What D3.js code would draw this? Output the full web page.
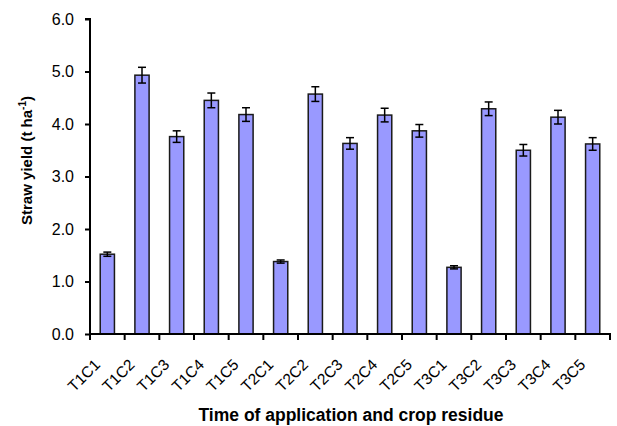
<!DOCTYPE html>
<html><head><meta charset="utf-8">
<script src="https://cdn.jsdelivr.net/npm/d3@7"></script>
<style>body{margin:0;background:#fff}svg{display:block}text{font-family:"Liberation Sans",Arial,sans-serif}</style>
</head><body>
<svg id="c" width="617" height="426"></svg>
<script>
const categories = ["T1C1","T1C2","T1C3","T1C4","T1C5","T2C1","T2C2","T2C3","T2C4","T2C5","T3C1","T3C2","T3C3","T3C4","T3C5"];
const values = [1.52,4.93,3.76,4.45,4.18,1.38,4.57,3.63,4.17,3.87,1.27,4.29,3.50,4.13,3.62];
const errors = [0.04,0.15,0.11,0.14,0.13,0.03,0.14,0.11,0.13,0.12,0.03,0.13,0.11,0.13,0.12];
const yTicks = [0,1,2,3,4,5,6];

const svg = d3.select("#c");
const m = {l:90, r:610, t:19, b:334};
const x = d3.scaleBand().domain(categories).range([m.l, m.r]).padding(0);
const y = d3.scaleLinear().domain([0,6]).range([m.b, m.t]);
const bw = x.bandwidth()*0.41;

// bars
svg.append("g").selectAll("rect").data(categories).join("rect")
  .attr("x", (d)=>x(d)+x.bandwidth()/2-bw/2)
  .attr("y", (d,i)=>y(values[i]))
  .attr("width", bw)
  .attr("height", (d,i)=>y(0)-y(values[i]))
  .attr("fill","#9999ff").attr("stroke","#1a1a1a").attr("stroke-width",1.5);

// error bars
const eg = svg.append("g").attr("stroke","#000").attr("stroke-width",1.5);
categories.forEach((c,i)=>{
  const cx = x(c)+x.bandwidth()/2;
  const y1 = y(values[i]+errors[i]), y2 = y(values[i]-errors[i]);
  eg.append("line").attr("x1",cx).attr("x2",cx).attr("y1",y1).attr("y2",y2);
  eg.append("line").attr("x1",cx-4).attr("x2",cx+4).attr("y1",y1).attr("y2",y1);
  eg.append("line").attr("x1",cx-4).attr("x2",cx+4).attr("y1",y2).attr("y2",y2);
});

// y axis
const ya = svg.append("g").attr("transform",`translate(${m.l},0)`)
  .call(d3.axisLeft(y).tickValues(yTicks).tickFormat(d3.format(".1f")).tickSize(5).tickPadding(11));
ya.select(".domain").attr("stroke","#000").attr("stroke-width",2).attr("d",`M-5,${m.t}H0V${m.b}`);
ya.selectAll(".tick line").attr("stroke","#000").attr("stroke-width",2);
ya.selectAll(".tick text").attr("font-size",16).attr("fill","#000").attr("font-family","Liberation Sans, Arial, sans-serif");

// x axis
const xa = svg.append("g").attr("transform",`translate(0,${m.b})`);
xa.append("line").attr("x1",m.l-1).attr("x2",m.r+1).attr("y1",0).attr("y2",0).attr("stroke","#000").attr("stroke-width",2);
const bounds = categories.map(c=>x(c)).concat([x(categories[categories.length-1])+x.bandwidth()]);
xa.selectAll(".tk").data(bounds).join("line").attr("class","tk")
  .attr("x1",d=>d).attr("x2",d=>d).attr("y1",0).attr("y2",6).attr("stroke","#000").attr("stroke-width",2);
xa.selectAll(".lbl").data(categories).join("text").attr("class","lbl")
  .attr("transform",d=>`translate(${x(d)+x.bandwidth()/2-14},${24}) rotate(-45)`)
  .attr("text-anchor","end").attr("dy","0.7em").attr("font-size",15.5).attr("fill","#000").text(d=>d);

// titles
svg.append("text").attr("x",(m.l+m.r)/2+1).attr("y",421).attr("text-anchor","middle")
  .attr("font-size",17.5).attr("font-weight","bold").text("Time of application and crop residue");
const yt = svg.append("text").attr("transform",`translate(32,${(m.t+m.b)/2-16}) rotate(-90)`)
  .attr("text-anchor","middle").attr("font-size",15).attr("font-weight","bold");
yt.append("tspan").text("Straw yield (t ha");
yt.append("tspan").attr("font-size",10).attr("dy",-6).text("-1");
yt.append("tspan").attr("dy",6).text(")");
</script>
</body></html>
